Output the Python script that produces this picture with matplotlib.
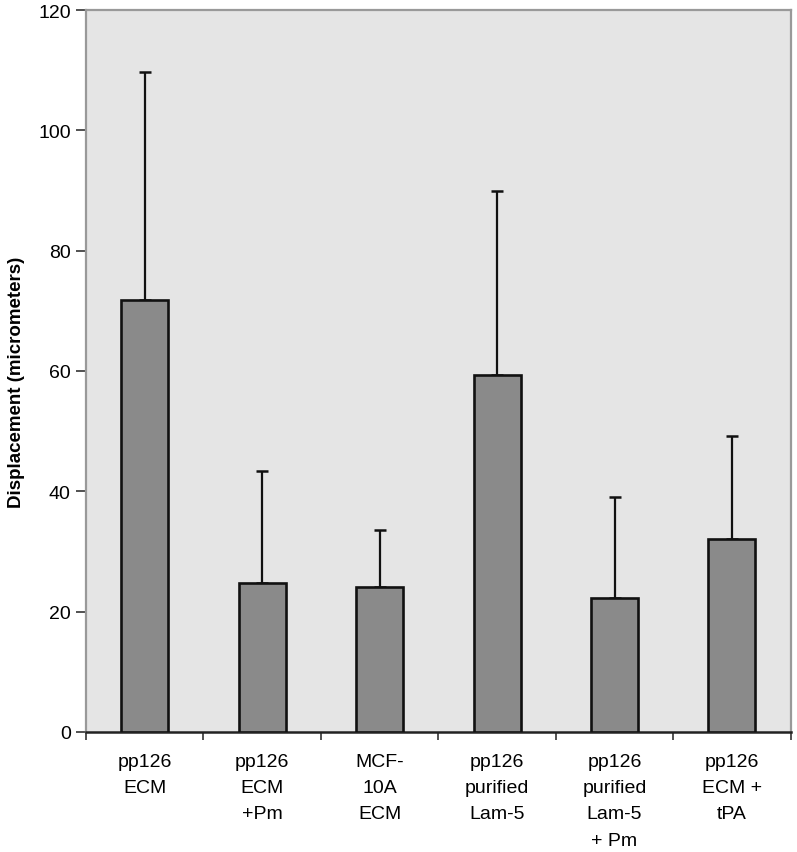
import matplotlib
matplotlib.use("Agg")
import matplotlib.pyplot as plt
import numpy as np

categories = ["pp126\nECM", "pp126\nECM\n+Pm", "MCF-\n10A\nECM",
              "pp126\npurified\nLam-5", "pp126\npurified\nLam-5\n+ Pm", "pp126\nECM +\ntPA"]
means = [71.8, 24.7, 24.1, 59.3, 22.2, 32.0]
errors_up = [37.9, 18.7, 9.5, 30.6, 16.8, 17.1]
yticks = [0, 20, 40, 60, 80, 100, 120]

plt.rcParams['font.family'] = ['Liberation Sans', 'DejaVu Sans']

fig = plt.figure(figsize=(7.97, 8.53), dpi=100)
ax = fig.add_axes([0.1079, 0.1409, 0.9921 - 0.1079, 0.9871 - 0.1409])
ax.set_facecolor('#e5e5e5')

x = np.arange(len(categories))
ax.bar(x, means, width=0.4, color='#8a8a8a', edgecolor='#111111', linewidth=1.9, zorder=3)
ax.errorbar(x, means, yerr=[np.zeros(len(means)), errors_up], fmt='none',
            ecolor='#111111', elinewidth=1.6, capsize=4, capthick=1.8, zorder=2)

ax.set_xlim(-0.5, len(categories) - 0.5)
ax.set_ylim(0, 120)
ax.set_yticks(yticks)
ax.set_yticklabels([str(t) for t in yticks], fontsize=14)
ax.tick_params(axis='y', direction='out', length=7, width=1.2, color='#333333', pad=4)

ax.set_xticks(np.arange(-0.5, len(categories), 1.0))
ax.set_xticklabels([])
ax.set_xticks(x, minor=True)
ax.set_xticklabels(categories, minor=True, fontsize=14, linespacing=1.72)
ax.tick_params(axis='x', which='major', direction='out', length=6, width=1.2, color='#333333')
ax.tick_params(axis='x', which='minor', length=0, pad=15)

for side in ['left', 'top', 'right']:
    ax.spines[side].set_color('#999999')
    ax.spines[side].set_linewidth(1.6)
ax.spines['bottom'].set_color('#222222')
ax.spines['bottom'].set_linewidth(1.8)

ax.set_ylabel("Displacement (micrometers)", fontsize=13.5, fontweight='bold')
ax.yaxis.set_label_coords(-0.086, 0.486)

fig.savefig("out.png", dpi=100, facecolor='white')
